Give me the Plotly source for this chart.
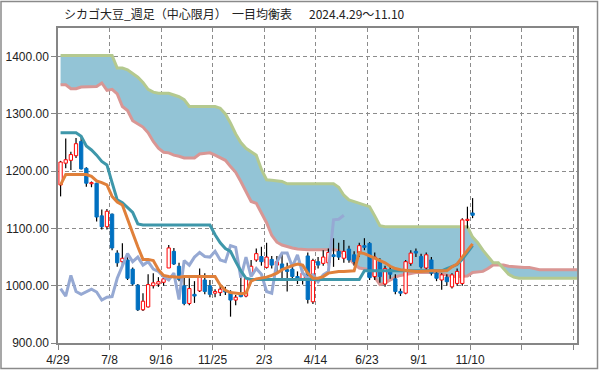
import plotly.graph_objects as go

# ---------------- data (weekly, index 0 = 2024/4/29) ----------------
tick_labels = ["4/29", "7/8", "9/16", "11/25", "2/3", "4/14", "6/23", "9/1", "11/10", "", ""]

open_ = [1176, 1214, 1219, 1227, 1252, 1205, 1178, 1179, 1122, 1103,
         1125, 1057, 1042, 1045, 1029, 1001, 958, 963, 1000, 1003,
         1006, 1031, 1060, 1034, 1000, 969, 985, 991, 1010, 1000,
         987, 988, 992, 987, 975, 984, 982, 1022, 1045, 1051,
         1032, 1046, 1036, 1038, 1028, 1029, 1016, 1010, 1052, 972,
         1042, 1039, 1040, 1054, 1060, 1048, 1064, 1054, 1057, 1070,
         1074, 1016, 1042, 1003, 1028, 1012, 990, 987, 1039, 1060,
         1051, 1031, 1045, 1022, 1010, 1015, 998, 1004, 1004, 1114,
         1127]
high = [1218, 1257, 1234, 1258, 1260, 1207, 1182, 1180, 1133, 1134,
        1126, 1062, 1074, 1050, 1032, 1003, 987, 1020, 1022, 1015,
        1020, 1071, 1066, 1040, 1015, 1013, 1008, 1030, 1022, 1010,
        994, 1000, 998, 992, 984, 1016, 1015, 1045, 1065, 1068,
        1075, 1052, 1052, 1056, 1040, 1035, 1025, 1028, 1058, 1047,
        1050, 1062, 1065, 1083, 1075, 1080, 1070, 1060, 1075, 1083,
        1076, 1058, 1048, 1035, 1035, 1020, 995, 1045, 1062, 1065,
        1056, 1058, 1050, 1025, 1022, 1020, 1022, 1030, 1118, 1138,
        1153]
low = [1156, 1205, 1202, 1223, 1203, 1173, 1172, 1112, 1098, 1098,
       1062, 1033, 1036, 1010, 1000, 956, 956, 962, 995, 998,
       1000, 1031, 1036, 1008, 966, 966, 970, 989, 985, 980,
       980, 982, 984, 946, 966, 980, 980, 1020, 1042, 1035,
       1030, 1030, 1022, 1012, 990, 1010, 1003, 1002, 969, 968,
       1030, 1035, 1035, 1033, 1045, 1040, 1040, 1035, 1050, 1062,
       1010, 1010, 1005, 998, 1012, 985, 982, 985, 1035, 1050,
       1030, 1028, 1018, 1008, 993, 1000, 995, 1000, 1000, 1100,
       1118]
close = [1216, 1220, 1229, 1248, 1204, 1179, 1180, 1120, 1103, 1130,
         1066, 1040, 1048, 1013, 1003, 958, 973, 1002, 1005, 1007,
         1012, 1066, 1038, 1011, 969, 995, 982, 1018, 990, 985,
         990, 994, 989, 975, 980, 981, 1013, 1034, 1056, 1042,
         1050, 1036, 1042, 1029, 1025, 1016, 1010, 1022, 976, 1044,
         1036, 1050, 1058, 1051, 1050, 1060, 1045, 1042, 1070, 1067,
         1014, 1050, 1016, 1030, 1020, 990, 987, 1042, 1057, 1057,
         1033, 1054, 1022, 1013, 1019, 1007, 1019, 1025, 1115, 1116,
         1123]

# 転換線 (tenkan)
tenkan = [1176, 1194, 1194, 1194, 1194, 1194, 1191, 1183, 1180, 1176,
          1156, 1146, 1141, 1118, 1092, 1068, 1046, 1046, 1044, 1028,
          1018, 1016, 1015, 1015, 1016, 1016, 1016, 1016, 1016, 1016,
          1016, 1001, 992, 988, 987, 986, 987, 1008, 1012, 1013,
          1015, 1018, 1022, 1028, 1032, 1035, 1038, 1036, 1022, 1013,
          1013, 1016, 1022, 1024, 1025, 1025, 1025, 1026, 1058, 1056,
          1052, 1048, 1045, 1040, 1034, 1030, 1028, 1027, 1025, 1025,
          1025, 1026, 1026, 1026, 1026, 1026, 1033, 1038, 1050, 1062,
          1073]
# 基準線 (kijun)
kijun = [1267, 1267, 1267, 1267, 1261, 1244, 1237, 1228, 1217, 1211,
         1180, 1150, 1145, 1137, 1128, 1108, 1106, 1106, 1106, 1106,
         1106, 1106, 1106, 1106, 1106, 1106, 1106, 1106, 1106, 1106,
         1089, 1075, 1065, 1060, 1042, 1026, 1013, 1011, 1011, 1011,
         1011, 1011, 1011, 1011, 1011, 1011, 1011, 1011, 1011, 1011,
         1011, 1011, 1011, 1011, 1011, 1011, 1011, 1011, 1011, 1026,
         1026, 1026, 1026, 1026, 1026, 1026, 1026, 1026, 1026, 1026,
         1026, 1026, 1026, 1026, 1026, 1030, 1033, 1037, 1046, 1058,
         1070]
# 遅行スパン (chikou)
chikou = [995, 982, 1018, 990, 985, 990, 994, 989, 975, 980,
          981, 1013, 1034, 1056, 1042, 1050, 1036, 1042, 1029, 1025,
          1016, 1010, 1022, 976, 1044, 1036, 1050, 1058, 1051, 1050,
          1060, 1045, 1042, 1070, 1067, 1014, 1050, 1016, 1030, 1020,
          990, 987, 1042, 1057, 1057, 1033, 1054, 1022, 1013, 1019,
          1007, 1019, 1025, 1115, 1116, 1123]
# 先行スパン1
span_a = [1402, 1402, 1402, 1402, 1402, 1402, 1402, 1402, 1402, 1402,
          1402, 1380, 1380, 1377, 1370, 1364, 1355, 1343, 1338, 1336,
          1336, 1336, 1333, 1330, 1325, 1313, 1313, 1313, 1313, 1313,
          1313, 1310, 1300, 1284, 1265, 1250, 1240, 1234, 1228, 1203,
          1185, 1184, 1183, 1182, 1178, 1178, 1178, 1178, 1178, 1178,
          1178, 1178, 1178, 1178, 1172, 1158, 1150, 1147, 1144, 1141,
          1138, 1122, 1105, 1103, 1103, 1103, 1103, 1103, 1103, 1103,
          1103, 1103, 1103, 1103, 1103, 1103, 1103, 1103, 1103, 1103,
          1085, 1075, 1062, 1050, 1040, 1040, 1030, 1020, 1015, 1013,
          1013, 1013, 1013, 1013, 1013, 1013, 1013, 1013, 1013, 1013,
          1013, 1013, 1013]
# 先行スパン2
span_b = [1351, 1351, 1344, 1344, 1347, 1347, 1347, 1348, 1354, 1341,
          1343, 1335, 1313, 1306, 1288, 1282, 1277, 1267, 1252, 1240,
          1233, 1232, 1228, 1226, 1223, 1223, 1223, 1230, 1231, 1232,
          1228, 1224, 1219, 1208, 1198, 1182, 1165, 1147, 1144, 1128,
          1110, 1088, 1076, 1071, 1068, 1066, 1064, 1063, 1063, 1063,
          1063, 1063, 1063, 1063, 1061, 1056, 1048, 1038, 1031, 1029,
          1028, 1015, 1002, 1005, 1010, 1015, 1018, 1020, 1022, 1023,
          1023, 1023, 1023, 1023, 1021, 1019, 1016, 1016, 1017, 1017,
          1023, 1024, 1025, 1030, 1036, 1036, 1036, 1034, 1033, 1033,
          1032, 1032, 1030, 1028, 1028, 1028, 1028, 1028, 1028, 1028,
          1028, 1028, 1028]

# ---------------- figure ----------------
W, H = 599, 370
ML, MR, MT, MB = 58, 22, 28, 27
PW, PH = W - ML - MR, H - MT - MB

weeks = list(range(len(close)))
cloud_x = list(range(len(span_a)))
chikou_x = list(range(len(chikou)))

fig = go.Figure()

# cloud fill
fig.add_trace(go.Scatter(x=cloud_x, y=span_a, mode="lines",
                         line=dict(width=0, color="rgba(0,0,0,0)"),
                         hoverinfo="skip", showlegend=False))
fig.add_trace(go.Scatter(x=cloud_x, y=span_b, mode="lines",
                         line=dict(width=0, color="rgba(0,0,0,0)"),
                         fill="tonexty", fillcolor="#93C4D6",
                         hoverinfo="skip", showlegend=False))
fig.add_trace(go.Scatter(x=cloud_x, y=span_b, mode="lines", name="先行スパン2",
                         line=dict(color="#D99694", width=3), showlegend=False))
fig.add_trace(go.Scatter(x=cloud_x, y=span_a, mode="lines", name="先行スパン1",
                         line=dict(color="#B4C98F", width=3), showlegend=False))

# candles: wicks then bodies
wx, wy = [], []
for i in weeks:
    wx += [i, i, None]
    wy += [high[i], low[i], None]
fig.add_trace(go.Scatter(x=wx, y=wy, mode="lines", line=dict(color="black", width=1.2),
                         hoverinfo="skip", showlegend=False))

hw = 0.32
def bodies(up):
    xs, ys = [], []
    for i in weeks:
        o, c = open_[i], close[i]
        if (c >= o) != up:
            continue
        xs += [i - hw, i + hw, i + hw, i - hw, i - hw, None]
        ys += [o, o, c, c, o, None]
    return xs, ys

ux, uy = bodies(True)
dx, dy = bodies(False)
fig.add_trace(go.Scatter(x=ux, y=uy, mode="lines", fill="toself", fillcolor="white",
                         line=dict(color="#FF0000", width=1), hoverinfo="skip", showlegend=False))
fig.add_trace(go.Scatter(x=dx, y=dy, mode="lines", fill="toself", fillcolor="#0070C0",
                         line=dict(color="#0070C0", width=1), hoverinfo="skip", showlegend=False))

# indicator lines
fig.add_trace(go.Scatter(x=chikou_x, y=chikou, mode="lines", name="遅行スパン",
                         line=dict(color="#96A9D3", width=3), showlegend=False))
fig.add_trace(go.Scatter(x=weeks, y=kijun, mode="lines", name="基準線",
                         line=dict(color="#3E97AA", width=3), showlegend=False))
fig.add_trace(go.Scatter(x=weeks, y=tenkan, mode="lines", name="転換線",
                         line=dict(color="#E0803A", width=3), showlegend=False))

grid = "#8C8C8C"
axis_col = "#868686"
tickvals = [-0.5 + 10 * k for k in range(len(tick_labels))]

fig.update_xaxes(range=[-0.5, -0.5 + PW / 5.15], tickvals=tickvals, ticktext=tick_labels,
                 showgrid=True, gridcolor=grid, griddash="4px,3px", gridwidth=1,
                 showline=True, linecolor=axis_col, linewidth=1.5, mirror=True,
                 ticks="outside", ticklen=5, tickcolor=axis_col, zeroline=False,
                 automargin=False,
                 tickfont=dict(family="Liberation Sans", size=12, color="#222222"))
fig.update_yaxes(range=[900, 1450], tickvals=[900, 1000, 1100, 1200, 1300, 1400],
                 tickformat=".2f",
                 showgrid=True, gridcolor=grid, griddash="4px,3px", gridwidth=1,
                 showline=True, linecolor=axis_col, linewidth=1.5, mirror=True,
                 ticks="outside", ticklen=5, tickcolor=axis_col, zeroline=False,
                 automargin=False,
                 tickfont=dict(family="Liberation Sans", size=12, color="#222222"))

def px_x(px):
    return (px - ML) / PW

def px_y(py):
    return (H - MB - py) / PH

title_font = dict(family="Noto Sans CJK JP", size=12, color="#222222")
for txt, xpx in [("シカゴ大豆_週足（中心限月）", 62), ("一目均衡表", 230), ("2024.4.29～11.10", 307)]:
    fig.add_annotation(text=txt, xref="paper", yref="paper", x=px_x(xpx), y=px_y(14),
                       xanchor="left", yanchor="middle", showarrow=False, font=title_font)

fig.add_shape(type="rect", xref="paper", yref="paper",
              x0=px_x(1), x1=px_x(597.5), y0=px_y(368.5), y1=px_y(1.5),
              line=dict(color="#8A8A8A", width=1.5), fillcolor="rgba(0,0,0,0)", layer="above")

fig.update_layout(width=W, height=H, margin=dict(l=ML, r=MR, t=MT, b=MB, autoexpand=False),
                  paper_bgcolor="white", plot_bgcolor="white", showlegend=False)

fig.write_html("out.html", config={"displayModeBar": False},
               post_script="document.body.style.margin='0';document.body.style.padding='0';"
                           "document.documentElement.style.overflow='hidden';")
